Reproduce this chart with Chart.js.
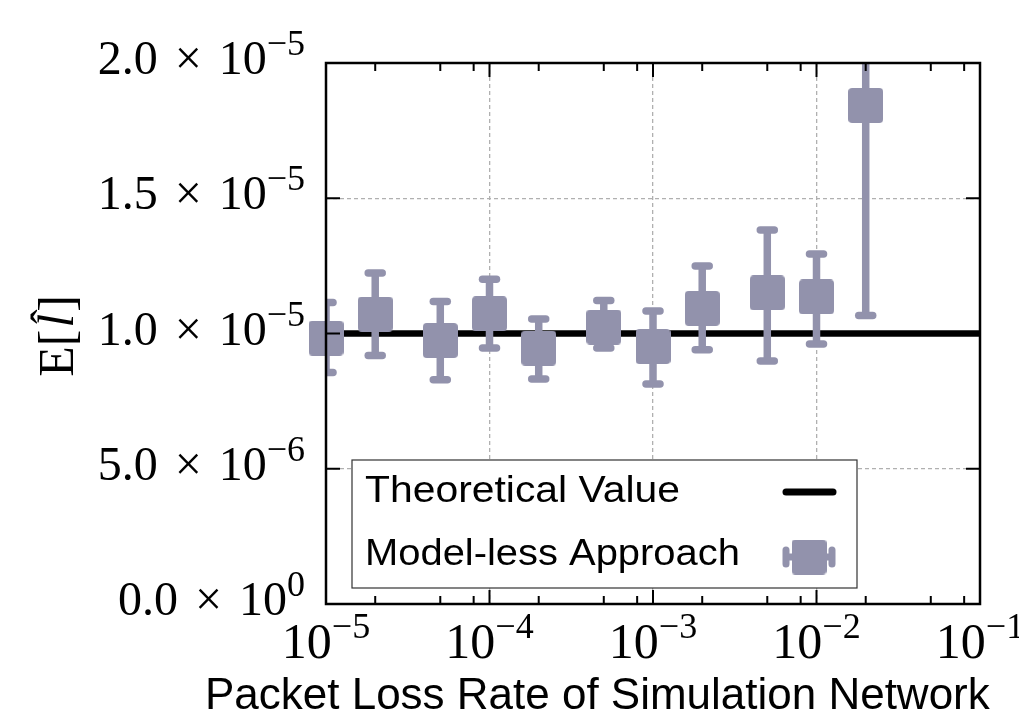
<!DOCTYPE html>
<html>
<head>
<meta charset="utf-8">
<script src="https://cdn.jsdelivr.net/npm/chart.js@4.4.1/dist/chart.umd.min.js"></script>
<style>
  html, body { margin: 0; padding: 0; background: #fff; }
  #wrap { width: 1019px; height: 713px; }
</style>
</head>
<body>
<div id="wrap"><canvas id="chart" width="1019" height="713"></canvas></div>
<script>
// data
const lossRates = [1e-5, 2e-5, 5e-5, 1e-4, 2e-4, 5e-4, 1e-3, 2e-3, 5e-3, 1e-2, 2e-2];
const meanValues = [0.983e-5, 1.072e-5, 0.974e-5, 1.073e-5, 0.946e-5, 1.024e-5, 0.952e-5, 1.093e-5, 1.150e-5, 1.135e-5, 1.843e-5];
const lowValues  = [0.856e-5, 0.919e-5, 0.829e-5, 0.946e-5, 0.832e-5, 0.946e-5, 0.813e-5, 0.940e-5, 0.898e-5, 0.961e-5, 1.067e-5];
const highValues = [1.115e-5, 1.224e-5, 1.118e-5, 1.201e-5, 1.054e-5, 1.122e-5, 1.083e-5, 1.250e-5, 1.383e-5, 1.294e-5, 2.060e-5];
const theoreticalX = [1e-5, 1e-1];
const theoreticalY = [1e-5, 1e-5];

const xMajorTicks = [1e-5, 1e-4, 1e-3, 1e-2, 1e-1];
const xTickExponents = ['\u22125', '\u22124', '\u22123', '\u22122', '\u22121'];
const xMinorTicks = [2e-5, 5e-5, 8e-5, 2e-4, 5e-4, 8e-4, 2e-3, 5e-3, 8e-3, 2e-2, 5e-2, 8e-2];
const yTicks = [0, 5e-6, 1e-5, 1.5e-5, 2e-5];
const yTickMantissas = ['0.0', '5.0', '1.0', '1.5', '2.0'];
const yTickExponents = ['0', '\u22126', '\u22125', '\u22125', '\u22125'];

const legendLabels = ['Theoretical Value', 'Model-less Approach'];
const xTitle = 'Packet Loss Rate of Simulation Network';

const markerColor = 'rgb(146,146,172)';
const SERIF = '"Liberation Serif", "DejaVu Serif", serif';
const SANS = '"Liberation Sans", Arial, sans-serif';

function makeMarker(size, r, color) {
  const c = document.createElement('canvas');
  c.width = size; c.height = size;
  const g = c.getContext('2d');
  g.fillStyle = color;
  g.beginPath();
  g.moveTo(r, 0);
  g.lineTo(size - r, 0); g.arcTo(size, 0, size, r, r);
  g.lineTo(size, size - r); g.arcTo(size, size, size - r, size, r);
  g.lineTo(r, size); g.arcTo(0, size, 0, size - r, r);
  g.lineTo(0, r); g.arcTo(0, 0, r, 0, r);
  g.closePath();
  g.fill();
  return c;
}
const marker = makeMarker(35, 4, markerColor);

// serif "a x 10^b" style labels, drawn piece by piece
function drawPower(ctx, pieces, x, baseline, align) {
  const widths = pieces.map(p => { ctx.font = p.size + 'px ' + SERIF; return ctx.measureText(p.t).width + (p.gap || 0); });
  const total = widths.reduce((s, w) => s + w, 0);
  let cx = align === 'right' ? x - total : x - total / 2;
  pieces.forEach((p, i) => {
    ctx.font = p.size + 'px ' + SERIF;
    ctx.textAlign = 'left';
    ctx.textBaseline = 'alphabetic';
    ctx.fillText(p.t, cx + (p.gap || 0), baseline - (p.raise || 0));
    cx += widths[i];
  });
}

// sans text fitted to a width and a cap height
function drawFitText(ctx, text, x, baseline, width, capHeight) {
  ctx.save();
  ctx.font = '40px ' + SANS;
  const w = ctx.measureText(text).width;
  const size = 40 * width / w;
  const sy = capHeight / (size * 0.716);
  ctx.translate(x, baseline);
  ctx.scale(1, sy);
  ctx.font = size + 'px ' + SANS;
  ctx.textAlign = 'left';
  ctx.textBaseline = 'alphabetic';
  ctx.fillStyle = '#000';
  ctx.fillText(text, 0, 0);
  ctx.restore();
}

const decorations = {
  id: 'decorations',
  beforeDatasetDraw(chart, args) {
    if (args.index !== 0) return;
    const { ctx, chartArea: a, scales: { x, y } } = chart;
    ctx.save();
    ctx.beginPath();
    ctx.rect(a.left, a.top, a.right - a.left, a.bottom - a.top);
    ctx.clip();
    ctx.strokeStyle = markerColor;
    ctx.lineWidth = 7.5;
    lossRates.forEach((r, i) => {
      const px = x.getPixelForValue(r);
      const lo = y.getPixelForValue(lowValues[i]);
      const hi = y.getPixelForValue(highValues[i]);
      ctx.lineCap = 'butt';
      ctx.beginPath(); ctx.moveTo(px, lo); ctx.lineTo(px, hi); ctx.stroke();
      ctx.lineCap = 'round';
      [lo, hi].forEach(py => {
        ctx.beginPath(); ctx.moveTo(px - 7, py); ctx.lineTo(px + 7, py); ctx.stroke();
      });
    });
    ctx.restore();
  },
  afterDraw(chart) {
    const { ctx, chartArea: a, scales: { x, y } } = chart;
    ctx.save();
    ctx.fillStyle = '#000';
    ctx.strokeStyle = '#000';

    // frame
    ctx.lineWidth = 2.5;
    ctx.strokeRect(a.left, a.top, a.right - a.left, a.bottom - a.top);

    // inward ticks
    ctx.lineWidth = 2;
    ctx.beginPath();
    xMajorTicks.forEach(v => {
      const px = x.getPixelForValue(v);
      ctx.moveTo(px, a.bottom); ctx.lineTo(px, a.bottom - 14);
      ctx.moveTo(px, a.top); ctx.lineTo(px, a.top + 14);
    });
    xMinorTicks.forEach(v => {
      const px = x.getPixelForValue(v);
      ctx.moveTo(px, a.bottom); ctx.lineTo(px, a.bottom - 8);
      ctx.moveTo(px, a.top); ctx.lineTo(px, a.top + 8);
    });
    yTicks.forEach(v => {
      const py = y.getPixelForValue(v);
      ctx.moveTo(a.left, py); ctx.lineTo(a.left + 14, py);
      ctx.moveTo(a.right, py); ctx.lineTo(a.right - 14, py);
    });
    ctx.stroke();

    // tick labels
    yTicks.forEach((v, i) => {
      const py = y.getPixelForValue(v);
      drawPower(ctx, [
        { t: yTickMantissas[i], size: 48 },
        { t: '\u00d7', size: 48, gap: 17 },
        { t: '10', size: 48, gap: 17 },
        { t: yTickExponents[i], size: 36, raise: 19 }
      ], a.left - 21, py + 11, 'right');
    });
    xMajorTicks.forEach((v, i) => {
      const px = x.getPixelForValue(v);
      drawPower(ctx, [
        { t: '10', size: 50 },
        { t: xTickExponents[i], size: 36, raise: 20 }
      ], px, a.bottom + 54, 'center');
    });

    // axis titles
    drawFitText(ctx, xTitle, 205, 709, 785, 32);

    ctx.save();
    ctx.translate(73, 336);
    ctx.rotate(-Math.PI / 2);
    ctx.textBaseline = 'alphabetic';
    ctx.textAlign = 'left';
    const parts = [
      { t: 'E', f: '50px ' + SERIF },
      { t: '[', f: '50px ' + SERIF },
      { t: 'l', f: 'italic 50px ' + SERIF, hat: true },
      { t: ']', f: '50px ' + SERIF }
    ];
    const pw = parts.map(p => { ctx.font = p.f; return ctx.measureText(p.t).width + (p.t === 'l' ? 4 : 0); });
    let tx = -pw.reduce((s, w) => s + w, 0) / 2;
    parts.forEach((p, i) => {
      ctx.font = p.f;
      ctx.fillText(p.t, tx + (p.t === 'l' ? 2 : 0), 0);
      if (p.hat) {
        ctx.font = '44px ' + SERIF;
        ctx.textAlign = 'center';
        ctx.fillText('\u02c6', tx + pw[i] / 2 + 4, -12);
        ctx.textAlign = 'left';
      }
      tx += pw[i];
    });
    ctx.restore();

    // legend
    const L = { left: 352, top: 460, right: 857, bottom: 588 };
    ctx.fillStyle = '#fff';
    ctx.fillRect(L.left, L.top, L.right - L.left, L.bottom - L.top);
    ctx.strokeStyle = '#333';
    ctx.lineWidth = 1.2;
    ctx.strokeRect(L.left, L.top, L.right - L.left, L.bottom - L.top);
    drawFitText(ctx, legendLabels[0], 365, 502, 315, 27);
    drawFitText(ctx, legendLabels[1], 365, 565, 375, 27);

    ctx.strokeStyle = '#000';
    ctx.lineWidth = 7;
    ctx.lineCap = 'round';
    ctx.beginPath(); ctx.moveTo(786, 492); ctx.lineTo(833, 492); ctx.stroke();

    ctx.strokeStyle = markerColor;
    ctx.beginPath();
    ctx.moveTo(786, 557); ctx.lineTo(832, 557);
    ctx.moveTo(786, 550); ctx.lineTo(786, 564);
    ctx.moveTo(832, 550); ctx.lineTo(832, 564);
    ctx.stroke();
    ctx.drawImage(marker, 809 - 17.5, 557 - 17.5);
    ctx.restore();
  }
};

new Chart(document.getElementById('chart'), {
  type: 'scatter',
  data: {
    datasets: [
      {
        label: legendLabels[1],
        data: lossRates.map((r, i) => ({ x: r, y: meanValues[i] })),
        pointStyle: marker,
        pointRadius: 18,
        showLine: false,
        clip: false,
        order: 0
      },
      {
        label: legendLabels[0],
        type: 'line',
        data: theoreticalX.map((v, i) => ({ x: v, y: theoreticalY[i] })),
        borderColor: '#000',
        borderWidth: 6.5,
        pointRadius: 0,
        showLine: true,
        order: 1
      }
    ]
  },
  plugins: [decorations],
  options: {
    responsive: false,
    devicePixelRatio: 1,
    animation: false,
    events: [],
    layout: { padding: { left: 326, right: 39, top: 63, bottom: 109 } },
    plugins: { legend: { display: false }, tooltip: { enabled: false } },
    scales: {
      x: {
        type: 'logarithmic',
        min: 1e-5,
        max: 1e-1,
        afterBuildTicks: axis => { axis.ticks = xMajorTicks.map(v => ({ value: v })); },
        ticks: { display: false },
        grid: { color: '#b0b0b0', lineWidth: 1.3, drawTicks: false },
        border: { display: false, dash: [4, 3] }
      },
      y: {
        type: 'linear',
        min: 0,
        max: 2e-5,
        afterBuildTicks: axis => { axis.ticks = yTicks.map(v => ({ value: v })); },
        ticks: { display: false },
        grid: { color: '#b0b0b0', lineWidth: 1.3, drawTicks: false },
        border: { display: false, dash: [4, 3] }
      }
    }
  }
});
</script>
</body>
</html>
